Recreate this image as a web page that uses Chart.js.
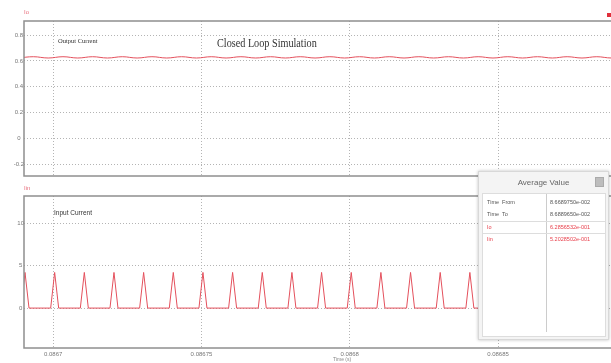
<!DOCTYPE html>
<html>
<head>
<meta charset="utf-8">
<script src="https://cdn.jsdelivr.net/npm/chart.js@4.4.1/dist/chart.umd.min.js"></script>
<style>
  html, body { margin: 0; padding: 0; background: #fff; }
  body { width: 611px; height: 363px; overflow: hidden; position: relative; font-family: 'Liberation Sans', Arial, sans-serif; }
  canvas { position: absolute; left: 0; }
  #topChart { top: 0; }
  #bottomChart { top: 182px; }
  .note { position: absolute; white-space: nowrap; line-height: 1; }
  #avgBox { position: absolute; left: 478px; top: 171px; width: 129px; height: 167px; background: #f4f4f4;
            border: 1px solid #d8d8d8; box-shadow: 0 0 3px rgba(0,0,0,0.25); }
  #avgHead { height: 21px; line-height: 21px; text-align: center; font-size: 8px; color: #666; }
  #avgBtn { position: absolute; right: 4px; top: 5px; width: 7px; height: 8px; background: #bdbdbd; border: 1px solid #aaa; }
  #avgBody { position: absolute; left: 3px; top: 21px; width: 122px; height: 142px; background: #fff; border: 1px solid #ddd; }
  #avgSep { position: absolute; left: 63px; top: 0; bottom: 4px; border-left: 1px solid #ccc; }
  .row { position: absolute; left: 0; width: 122px; height: 11px; font-size: 5.5px; line-height: 11px; color: #555; }
  .row span { position: absolute; }
  .row .k { left: 4px; }
  .row .v { left: 67px; }
  .row.red { color: #e8404c; }
  .row.line { border-top: 1px solid #ddd; }
</style>
</head>
<body>
<canvas id="topChart" width="614" height="180"></canvas>
<canvas id="bottomChart" width="614" height="181"></canvas>

<div class="note" style="left:24px; top:9px; font-size:6px; color:#e8707e;">Io</div>
<div class="note" style="left:58px; top:38px; font-size:6.5px; color:#333; font-family:'Liberation Serif', serif;">Output Current</div>
<div class="note" style="left:217px; top:37px; font-size:12px; color:#333; font-family:'Liberation Serif', serif; transform:scaleX(0.85); transform-origin:left top;">Closed Loop Simulation</div>
<div class="note" style="left:24px; top:185px; font-size:6px; color:#e8707e;">Iin</div>
<div class="note" style="left:54px; top:210px; font-size:6.5px; color:#333;">Input Current</div>
<div class="note" style="left:333px; top:357px; font-size:5px; color:#888;">Time (s)</div>
<div class="note" style="left:607px; top:13px; width:4px; height:4px; background:#e0303c;"></div>

<div id="avgBox">
  <div id="avgHead">Average Value</div>
  <div id="avgBtn"></div>
  <div id="avgBody">
    <div id="avgSep"></div>
    <div class="row" style="top:3px;"><span class="k">Time&nbsp;&nbsp;From</span><span class="v">8.6689750e-002</span></div>
    <div class="row" style="top:15px;"><span class="k">Time&nbsp;&nbsp;To</span><span class="v">8.6889650e-002</span></div>
    <div class="row red line" style="top:27px;"><span class="k">Io</span><span class="v">6.2856532e-001</span></div>
    <div class="row red line" style="top:39px;"><span class="k">Iin</span><span class="v">5.2028502e-001</span></div>
  </div>
</div>

<script>
// time axis (s)
const xMin = 0.08669016;
const xMax = 0.0868891;
const xTicks = [0.0867, 0.08675, 0.0868, 0.08685];
const xTickLabels = ['0.0867', '0.08675', '0.0868', '0.08685'];

// output current Io (A)
const ioTicks = [0.8, 0.6, 0.4, 0.2, 0, -0.2];
const ioTickLabels = ['0.8', '0.6', '0.4', '0.2', '0', '-0.2'];
const ioTime = [
  0.0866883, 0.0866933, 0.0866983, 0.0867033, 0.0867083, 0.0867133, 0.0867183,
  0.0867233, 0.0867283, 0.0867333, 0.0867383, 0.0867433, 0.0867483, 0.0867533,
  0.0867583, 0.0867633, 0.0867683, 0.0867733, 0.0867783, 0.0867833, 0.0867883,
  0.0867933, 0.0867983, 0.0868033, 0.0868083, 0.0868133, 0.0868183, 0.0868233,
  0.0868283, 0.0868333, 0.0868383, 0.0868433, 0.0868483, 0.0868533, 0.0868583,
  0.0868633, 0.0868683, 0.0868733, 0.0868783, 0.0868833, 0.0868883, 0.0868933
];
const ioAmps = [
  0.622, 0.632, 0.622, 0.632, 0.622, 0.632, 0.622,
  0.632, 0.622, 0.632, 0.622, 0.632, 0.622, 0.632,
  0.622, 0.632, 0.622, 0.632, 0.622, 0.632, 0.622,
  0.632, 0.622, 0.632, 0.622, 0.632, 0.622, 0.632,
  0.622, 0.632, 0.622, 0.632, 0.622, 0.632, 0.622,
  0.632, 0.622, 0.632, 0.622, 0.632, 0.622, 0.632
];

// input current Iin (A)
const iinTicks = [10, 5, 0];
const iinTickLabels = ['10', '5', '0'];
const iinTime = [
  0.08668915, 0.0866905, 0.08669185,
  0.08669915, 0.0867005, 0.08670185,
  0.08670915, 0.0867105, 0.08671185,
  0.08671915, 0.0867205, 0.08672185,
  0.08672915, 0.0867305, 0.08673185,
  0.08673915, 0.0867405, 0.08674185,
  0.08674915, 0.0867505, 0.08675185,
  0.08675915, 0.0867605, 0.08676185,
  0.08676915, 0.0867705, 0.08677185,
  0.08677915, 0.0867805, 0.08678185,
  0.08678915, 0.0867905, 0.08679185,
  0.08679915, 0.0868005, 0.08680185,
  0.08680915, 0.0868105, 0.08681185,
  0.08681915, 0.0868205, 0.08682185,
  0.08682915, 0.0868305, 0.08683185,
  0.08683915, 0.0868405, 0.08684185,
  0.08684915, 0.0868505, 0.08685185,
  0.08685915, 0.0868605, 0.08686185,
  0.08686915, 0.0868705, 0.08687185,
  0.08687915, 0.0868805, 0.08688185
];
const iinAmps = [
  0, 4.2, 0,  0, 4.2, 0,  0, 4.2, 0,  0, 4.2, 0,  0, 4.2, 0,
  0, 4.2, 0,  0, 4.2, 0,  0, 4.2, 0,  0, 4.2, 0,  0, 4.2, 0,
  0, 4.2, 0,  0, 4.2, 0,  0, 4.2, 0,  0, 4.2, 0,  0, 4.2, 0,
  0, 4.2, 0,  0, 4.2, 0,  0, 4.2, 0,  0, 4.2, 0,  0, 4.2, 0
];

const traceColor = '#e4505c';
const gridColor = '#b4b4b4';
const frameColor = '#8f8f8f';
const tickFont = { family: 'Liberation Sans', size: 6 };

function makeChart(id, times, amps, yMin, yMax, yTicks, yLabels, padTop, xAxisHeight, showXLabels, tension) {
    return new Chart(document.getElementById(id), {
        type: 'line',
        data: {
            datasets: [{
                data: times.map((t, i) => ({ x: t, y: amps[i] })),
                borderColor: traceColor,
                borderWidth: 1,
                pointRadius: 0,
                tension: tension,
                fill: false
            }]
        },
        options: {
            responsive: false,
            animation: false,
            events: [],
            layout: { padding: { top: padTop, right: 0, bottom: 0, left: 0 } },
            plugins: { legend: { display: false }, tooltip: { enabled: false } },
            scales: {
                x: {
                    type: 'linear',
                    min: xMin,
                    max: xMax,
                    afterBuildTicks: axis => { axis.ticks = xTicks.map(v => ({ value: v })); },
                    afterFit: axis => { axis.height = xAxisHeight; },
                    // in v4 the dash of the grid lines comes from border.dash
                    border: { display: false, dash: [1, 2] },
                    grid: { color: gridColor, drawTicks: false },
                    ticks: {
                        display: showXLabels,
                        padding: 3,
                        maxRotation: 0,
                        font: tickFont,
                        color: '#777',
                        callback: (v, i) => xTickLabels[i]
                    }
                },
                y: {
                    min: yMin,
                    max: yMax,
                    afterBuildTicks: axis => { axis.ticks = yTicks.map(v => ({ value: v })); },
                    afterFit: axis => { axis.width = 24; },
                    border: { display: false, dash: [1, 2] },
                    grid: { color: gridColor, drawTicks: false },
                    ticks: {
                        crossAlign: 'center',
                        padding: 0,
                        font: tickFont,
                        color: '#777',
                        callback: (v, i) => yLabels[i]
                    }
                }
            }
        },
        plugins: [{
            // closed frame round the plot area, like the simulator view
            id: 'frame',
            afterDraw(chart) {
                const a = chart.chartArea, c = chart.ctx;
                c.save();
                c.strokeStyle = frameColor;
                c.lineWidth = 1.5;
                c.strokeRect(a.left, a.top, a.right - a.left, a.bottom - a.top);
                c.restore();
            }
        }]
    });
}

makeChart('topChart', ioTime, ioAmps, -0.293, 0.909, ioTicks, ioTickLabels, 21, 4, false, 0.4);
makeChart('bottomChart', iinTime, iinAmps, -4.7, 13.2, iinTicks, iinTickLabels, 14, 15, true, 0);
</script>
</body>
</html>
